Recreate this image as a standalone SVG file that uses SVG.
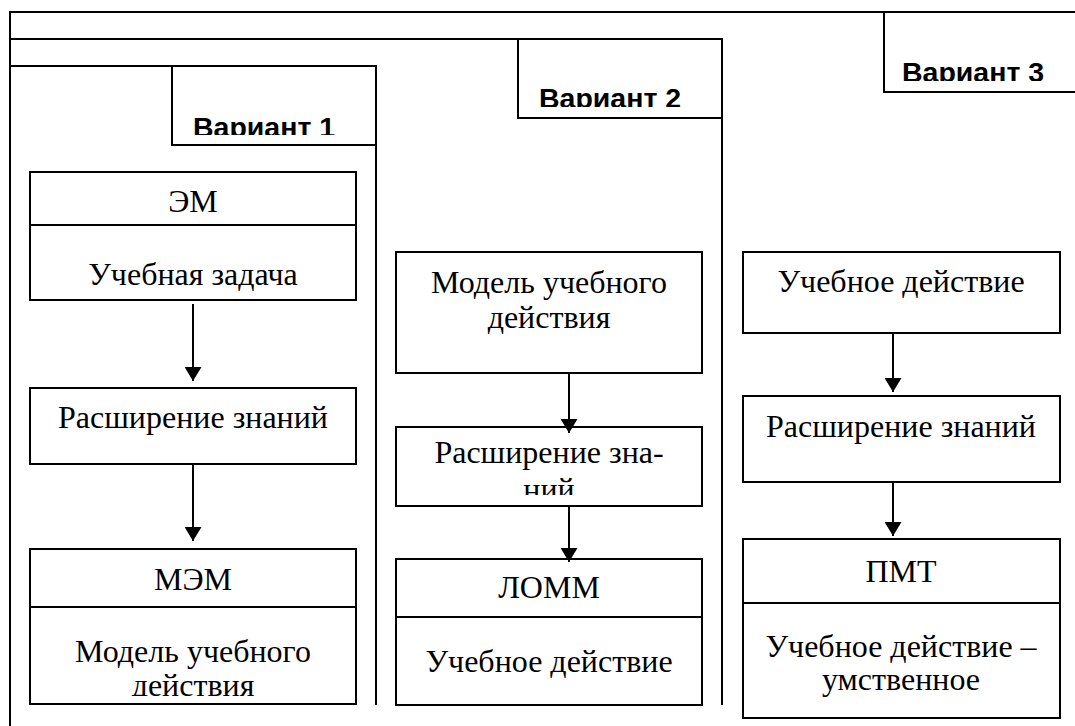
<svg xmlns="http://www.w3.org/2000/svg" width="1075" height="726" viewBox="0 0 1075 726">
<style>
.ln{fill:none;stroke:#000;stroke-width:2}
.bx{fill:#fff;stroke:#000;stroke-width:2}
.t{font-family:"Liberation Serif","Times New Roman",serif;font-size:32px;fill:#000;text-anchor:middle}
.v{font-family:"Liberation Sans",Arial,sans-serif;font-size:28.5px;font-weight:bold;fill:#000}
.c{fill:none;stroke:#000;stroke-width:2}
</style>
<defs>
<marker id="ah" markerUnits="userSpaceOnUse" markerWidth="15" markerHeight="17" refX="14" refY="8.5" orient="auto">
<path d="M0,0 L14,8.5 L0,17 z" fill="#000"/>
</marker>
<clipPath id="cv1"><rect x="172" y="66" width="204" height="69"/></clipPath>
<clipPath id="cv2"><rect x="518" y="39" width="204" height="68"/></clipPath>
<clipPath id="cv3"><rect x="884" y="12" width="191" height="69"/></clipPath>
<clipPath id="cm"><rect x="30" y="607" width="326" height="89"/></clipPath>
<clipPath id="cr2"><rect x="396" y="427" width="306" height="68"/></clipPath>
</defs>
<rect width="1075" height="726" fill="#fff"/>
<g id="frame">
<path class="ln" d="M10,726 V12 H1076"/>
<path class="ln" d="M10,39 H722 V705"/>
<path class="ln" d="M10,66 H376 V705"/>
</g>
<g id="tab1">
<path class="ln" d="M172,66 V145 H376"/>
<text class="v" x="193" y="136.5" clip-path="url(#cv1)">Вариант 1</text>
</g>
<g id="tab2">
<path class="ln" d="M518,39 V118 H722"/>
<text class="v" x="539" y="107.5" clip-path="url(#cv2)">Вариант 2</text>
</g>
<g id="tab3">
<path class="ln" d="M884,12 V92 H1076"/>
<text class="v" x="902" y="81.5" clip-path="url(#cv3)">Вариант 3</text>
</g>
<g id="em">
<rect class="bx" x="30" y="172" width="326" height="128"/>
<line class="ln" x1="30" y1="225" x2="356" y2="225"/>
<text class="t" x="193" y="212">ЭМ</text>
<text class="t" x="193" y="285">Учебная задача</text>
</g>
<g id="rz1">
<rect class="bx" x="30" y="388" width="326" height="76"/>
<text class="t" x="193" y="428">Расширение знаний</text>
</g>
<g id="mem">
<rect class="bx" x="30" y="549" width="326" height="155"/>
<line class="ln" x1="30" y1="607" x2="356" y2="607"/>
<text class="t" x="193" y="590">МЭМ</text>
<g clip-path="url(#cm)">
<text class="t" x="193" y="662">Модель учебного</text>
<text class="t" x="193" y="696">действия</text>
</g>
</g>
<g id="mud">
<rect class="bx" x="396" y="252" width="306" height="121"/>
<text class="t" x="549" y="293">Модель учебного</text>
<text class="t" x="549" y="328">действия</text>
</g>
<g id="rz2">
<rect class="bx" x="396" y="427" width="306" height="79"/>
<g clip-path="url(#cr2)">
<text class="t" x="549" y="463">Расширение зна-</text>
<text class="t" x="549" y="500">ний</text>
</g>
</g>
<g id="lomm">
<rect class="bx" x="396" y="559" width="306" height="146"/>
<line class="ln" x1="396" y1="617" x2="702" y2="617"/>
<text class="t" x="549" y="598">ЛОММ</text>
<text class="t" x="549" y="672">Учебное действие</text>
</g>
<g id="ud3">
<rect class="bx" x="743" y="252" width="317" height="81"/>
<text class="t" x="901" y="292">Учебное действие</text>
</g>
<g id="rz3">
<rect class="bx" x="743" y="396" width="317" height="86"/>
<text class="t" x="901" y="437">Расширение знаний</text>
</g>
<g id="pmt">
<rect class="bx" x="743" y="539" width="317" height="179"/>
<line class="ln" x1="743" y1="603" x2="1060" y2="603"/>
<text class="t" x="901" y="582">ПМТ</text>
<text class="t" x="901" y="657">Учебное действие –</text>
<text class="t" x="901" y="690">умственное</text>
</g>
<g id="connectors">
<line class="c" x1="193" y1="304" x2="193" y2="381" marker-end="url(#ah)"/>
<line class="c" x1="193" y1="464" x2="193" y2="541" marker-end="url(#ah)"/>
<line class="c" x1="569" y1="373" x2="569" y2="433" marker-end="url(#ah)"/>
<line class="c" x1="569" y1="506" x2="569" y2="562" marker-end="url(#ah)"/>
<line class="c" x1="893" y1="333" x2="893" y2="392" marker-end="url(#ah)"/>
<line class="c" x1="893" y1="482" x2="893" y2="536" marker-end="url(#ah)"/>
</g>
</svg>
